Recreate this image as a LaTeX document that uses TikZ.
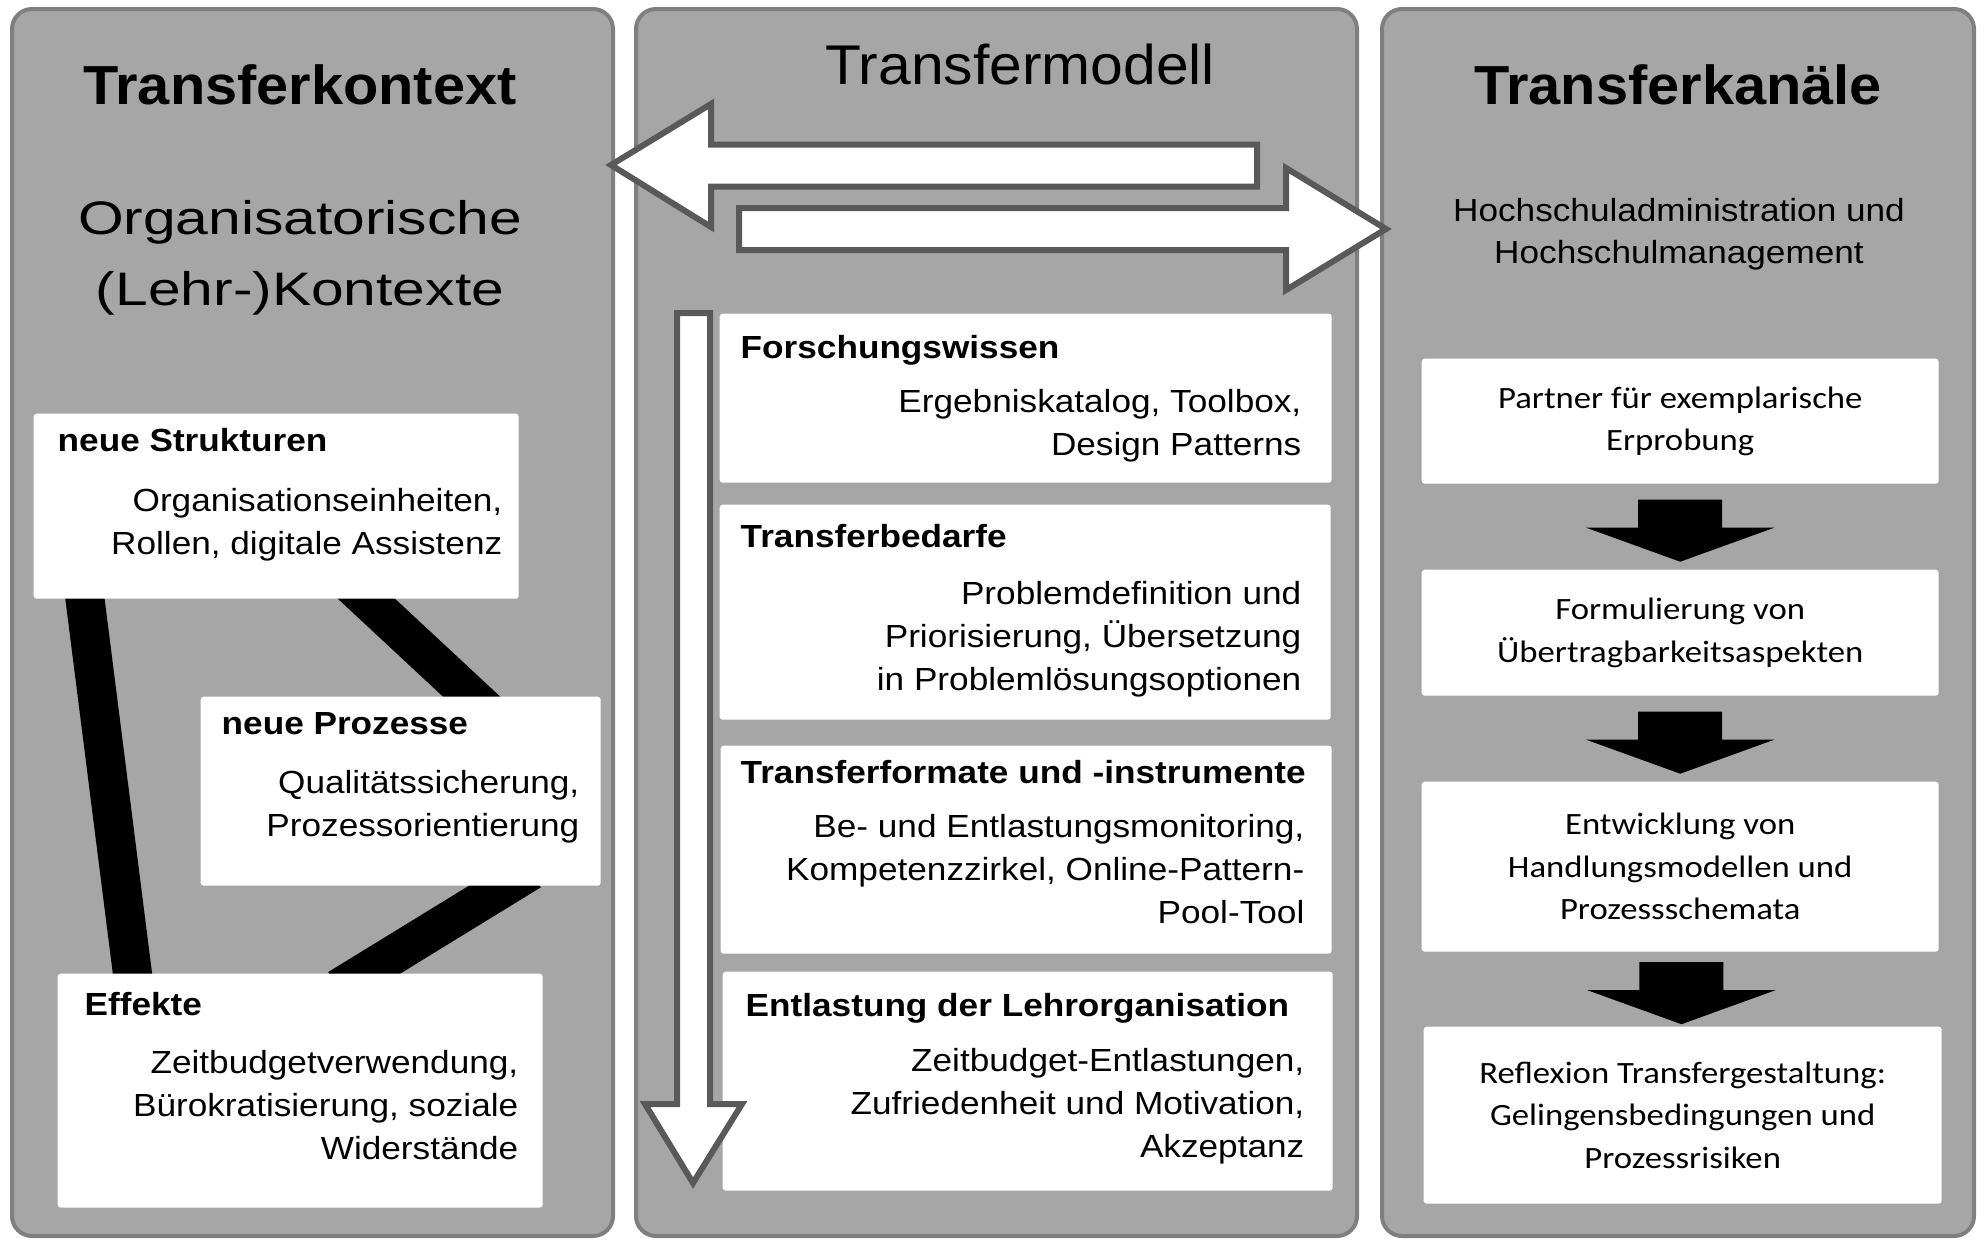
\documentclass[tikz,border=0pt]{standalone}
\usepackage{fontspec}
\setmainfont{Liberation Sans}[FakeStretch=1.1]
\newfontfamily\titlefont{Liberation Sans}[FakeStretch=1.05]
\newfontfamily\widefont{Liberation Sans}[FakeStretch=1.25]
\newfontfamily\calibrifont{Carlito}[FakeStretch=1.12]
\usetikzlibrary{calc}
\definecolor{panelfill}{HTML}{A6A6A6}
\definecolor{panelline}{HTML}{7F7F7F}
\definecolor{arrowline}{HTML}{595959}
\pgfdeclarelayer{back}
\pgfdeclarelayer{bands}
\pgfsetlayers{back,bands,main}
\newcommand\bodysize{\fontsize{9.1pt}{12.1pt}\selectfont}
\newcommand\titlesize{\titlefont\fontsize{15.65pt}{18pt}\selectfont}
\newcommand\StepArrow[2]{
\fill[black,shift={($(#1.south)!0.5!(#2.north)$)}]
  (-42,-27) -- (42,-27) -- (42,1) -- (94,1) -- (0,35) -- (-94,1) -- (-42,1) -- cycle;
}
\tikzset{
  panel/.style={draw=panelline,fill=panelfill,line width=0.4mm,rounded corners=2mm},
  title/.style={anchor=base,inner sep=0,font=\titlesize},
  textbox/.style 2 args={fill=white,rounded corners=0.3mm,inner sep=0,anchor=north west,
    minimum width=#1,minimum height=#2},
  stepbox/.style 2 args={textbox={#1}{#2},align=center,
    font=\calibrifont\fontsize{8.82pt}{12.1pt}\selectfont},
  headtext/.style={anchor=base west,inner sep=0,font=\bodysize\bfseries},
  bodytext/.style={anchor=base east,inner sep=0,align=right,font=\bodysize},
  band/.style={line width=3.9mm,shorten <=-3mm,shorten >=-3mm},
  hollow/.style={draw=arrowline,fill=white,line width=0.6mm,line join=miter}
}
\begin{document}
\begin{tikzpicture}[x=0.1mm,y=-0.1mm]
\useasboundingbox (0,0) rectangle (1984,1240);
% panels
\begin{pgfonlayer}{back}
\draw[panel] (12,9) rectangle (613,1236);
\draw[panel] (636,9) rectangle (1357,1236);
\draw[panel] (1382,9) rectangle (1974,1236);
\end{pgfonlayer}
\node[title,font=\titlesize\bfseries] (kontexttitle) at (300,104) {Transferkontext};
\node[title,font=\titlefont\fontsize{15.93pt}{18pt}\selectfont] (modelltitle) at (1020,84) {Transfermodell};
\node[title,font=\titlesize\bfseries] (kanaeletitle) at (1678,104) {Transferkanäle};

% left: Transferkontext
\node[anchor=base,inner sep=0,align=center,font=\widefont\fontsize{13.37pt}{20.2pt}\selectfont]
  (orga) at (300,305) {Organisatorische\\(Lehr-)Kontexte};
\node[textbox={48.5mm}{18.5mm}] (struk) at (33,413) {};
\node[headtext] (strukhead) at (57,451) {neue Strukturen};
\node[bodytext] (strukbody) at (503,554.5) {Organisationseinheiten,\\Rollen, digitale Assistenz};
\node[textbox={40mm}{18.9mm}] (proz) at (200,696) {};
\node[headtext] (prozhead) at (221,734) {neue Prozesse};
\node[bodytext] (prozbody) at (580,836.5) {Qualitätssicherung,\\Prozessorientierung};
\node[textbox={48.5mm}{23.4mm}] (eff) at (57,973) {};
\node[headtext] (effhead) at (84,1015) {Effekte};
\node[bodytext] (effbody) at (519,1159) {Zeitbudgetverwendung,\\Bürokratisierung, soziale\\Widerstände};
\begin{pgfonlayer}{bands}
\draw[band] ($(struk.south west)!0.107!(struk.south east)$) -- ($(eff.north west)!0.155!(eff.north east)$);
\draw[band] ($(struk.south west)!0.687!(struk.south east)$) -- ($(proz.north west)!0.675!(proz.north east)$);
\draw[band] ($(proz.south west)!0.76!(proz.south east)$) -- ($(eff.north west)!0.631!(eff.north east)$);
\end{pgfonlayer}

% middle: Transfermodell
\draw[hollow] (611,165) -- (711,104) -- (711,144.5) -- (1257,144.5) -- (1257,186.5)
  -- (711,186.5) -- (711,227) -- cycle;
\draw[hollow] (1386,229) -- (1286,168) -- (1286,208) -- (739,208) -- (739,250)
  -- (1286,250) -- (1286,290) -- cycle;
\node[textbox={61.2mm}{16.9mm}] (wissen) at (719,313) {};
\node[headtext] (wissenhead) at (740,358) {Forschungswissen};
\node[bodytext] (wissenbody) at (1302,455.5) {Ergebniskatalog, Toolbox,\\Design Patterns};
\node[textbox={61.1mm}{21.5mm}] (bedarf) at (719,504) {};
\node[headtext] (bedarfhead) at (740,547) {Transferbedarfe};
\node[bodytext] (bedarfbody) at (1302,690) {Problemdefinition und\\Priorisierung, Übersetzung\\in Problemlösungsoptionen};
\node[textbox={61.1mm}{20.8mm}] (format) at (720,745) {};
\node[headtext] (formathead) at (740,783) {Transferformate und -instrumente};
\node[bodytext] (formatbody) at (1305,923) {Be- und Entlastungsmonitoring,\\Kompetenzzirkel, Online-Pattern-\\Pool-Tool};
\node[textbox={61mm}{21.9mm}] (entlast) at (722,971) {};
\node[headtext] (entlasthead) at (745,1016) {Entlastung der Lehrorganisation};
\node[bodytext] (entlastbody) at (1305,1157) {Zeitbudget-Entlastungen,\\Zufriedenheit und Motivation,\\Akzeptanz};
\draw[hollow] (677,313) -- (710,313) -- (710,1104) -- (742,1104) -- (693,1183)
  -- (645,1104) -- (677,1104) -- cycle;

% right: Transferkanaele
\node[anchor=base,inner sep=0,align=center,font=\fontsize{9.1pt}{11.67pt}\selectfont]
  (hochschule) at (1679,263) {Hochschuladministration und\\Hochschulmanagement};
\node[stepbox={51.7mm}{12.5mm}] (partner) at (1421,358) {Partner für exemplarische\\Erprobung};
\node[stepbox={51.7mm}{12.6mm}] (formul) at (1421,569) {Formulierung von\\Übertragbarkeitsaspekten};
\node[stepbox={51.7mm}{17mm}] (entw) at (1421,781) {Entwicklung von\\Handlungsmodellen und\\Prozessschemata};
\node[stepbox={51.8mm}{17.7mm}] (refl) at (1423,1026) {Reflexion Transfergestaltung:\\Gelingensbedingungen und\\Prozessrisiken};
\StepArrow{partner}{formul}
\StepArrow{formul}{entw}
\StepArrow{entw}{refl}
\end{tikzpicture}
\end{document}
